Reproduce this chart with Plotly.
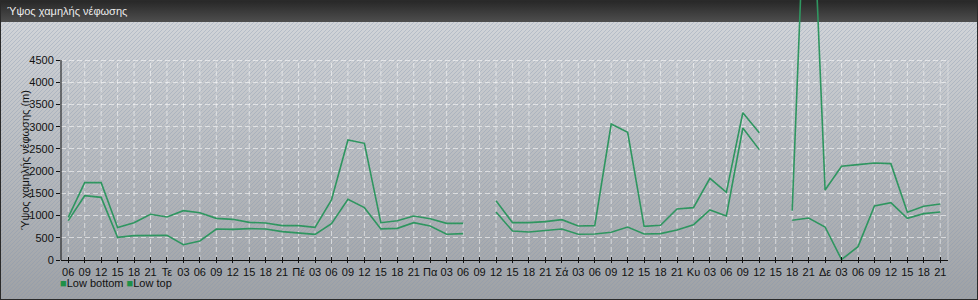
import base64
import plotly.graph_objects as go

# ---- data ----
tick_labels = ["06", "09", "12", "15", "18", "21",
               "Τε", "03", "06", "09", "12", "15", "18", "21",
               "Πέ", "03", "06", "09", "12", "15", "18", "21",
               "Πα", "03", "06", "09", "12", "15", "18", "21",
               "Σά", "03", "06", "09", "12", "15", "18", "21",
               "Κυ", "03", "06", "09", "12", "15", "18", "21",
               "Δε", "03", "06", "09", "12", "15", "18", "21"]
x_idx = list(range(len(tick_labels)))

low_bottom = [885, 1447, 1410, 510, 548, 555, 555, 345, 428, 698,
              690, 705, 698, 638, 600, 578, 818, 1365, 1178, 700,
              712, 840, 765, 578, 593, None, 1080, 653, 630, 668,
              698, 578, 585, 623, 743, 585, 593, 675, 795, 1125,
              990, 2970, 2483, None, 893, 945, 743, 10, 300, 1215,
              1290, 937, 1043, 1080]
low_top = [960, 1740, 1740, 728, 840, 1028, 968, 1110, 1065, 937,
           915, 847, 833, 773, 773, 735, 1350, 2700, 2625, 840,
           885, 990, 930, 825, 825, None, 1335, 840, 840, 863,
           908, 765, 773, 3060, 2873, 758, 780, 1148, 1178, 1837,
           1522, 3315, 2865, None, 1110, 10500, 1575, 2108, 2145, 2183,
           2168, 1073, 1208, 1260]
y_ticks = [0, 500, 1000, 1500, 2000, 2500, 3000, 3500, 4000, 4500]

# ---- geometry ----
W, H = 978, 300
ML, MR, MT, MB = 61, 30, 0, 40
PW, PH = W - ML - MR, H - MT - MB
PX_PER_UNIT = 200 / 4500.0
YMAX = PH / PX_PER_UNIT
X0, X1 = -0.44, 53.47
LINE = "#2f9660"
FONT = "Liberation Sans, Arial, sans-serif"

svg = f'''<svg xmlns="http://www.w3.org/2000/svg" width="{W}" height="{H}">
<defs>
<linearGradient id="bg" x1="0" y1="0" x2="0" y2="1">
<stop offset="0" stop-color="#d5d8dc"/><stop offset="1" stop-color="#9ea1a5"/></linearGradient>
<linearGradient id="tb" x1="0" y1="0" x2="0" y2="1">
<stop offset="0" stop-color="#262626"/><stop offset="1" stop-color="#4e4e4e"/></linearGradient>
<pattern id="h" width="4" height="4" patternUnits="userSpaceOnUse">
<path d="M-1,1 l2,-2 M0,4 l4,-4 M3,5 l2,-2" stroke="#8494ad" stroke-opacity="0.35" stroke-width="1"/></pattern>
</defs>
<rect width="{W}" height="{H}" fill="url(#bg)"/>
<rect width="{W}" height="{H}" fill="url(#h)"/>
<rect width="{W}" height="22" fill="url(#tb)"/>
<rect x="0.5" y="0.5" width="{W-1}" height="{H-1}" fill="none" stroke="#2a2a2a"/>
</svg>'''
src = "data:image/svg+xml;base64," + base64.b64encode(svg.encode()).decode()

fig = go.Figure()
fig.add_trace(go.Scatter(x=x_idx, y=low_bottom, mode="lines", name="Low bottom",
                         line=dict(color=LINE, width=1.6), connectgaps=False, showlegend=False))
fig.add_trace(go.Scatter(x=x_idx, y=low_top, mode="lines", name="Low top",
                         line=dict(color=LINE, width=1.6), connectgaps=False, showlegend=False))

shapes = []
for i in x_idx:
    shapes.append(dict(type="line", xref="x", yref="y", x0=i, x1=i, y0=0, y1=4500,
                       line=dict(color="rgba(255,255,255,0.55)", width=1, dash="5px,3px"),
                       layer="below"))
shapes.append(dict(type="line", xref="paper", yref="y", x0=1, x1=1, y0=0, y1=4500,
                   line=dict(color="rgba(255,255,255,0.35)", width=1), layer="below"))
shapes.append(dict(type="line", xref="paper", yref="y", x0=0, x1=0, y0=-50, y1=4500,
                   line=dict(color="#111", width=1), layer="above"))

fig.update_layout(
    width=W, height=H,
    margin=dict(l=ML, r=MR, t=MT, b=MB, pad=0),
    paper_bgcolor="#b8bbbf", plot_bgcolor="rgba(0,0,0,0)",
    showlegend=False,
    font=dict(family=FONT, size=11, color="#111"),
    images=[dict(source=src, xref="paper", yref="paper", x=-ML / PW, y=1,
                 sizex=W / PW, sizey=H / PH, xanchor="left", yanchor="top",
                 sizing="stretch", layer="below")],
    shapes=shapes,
    xaxis=dict(range=[X0, X1], tickmode="array", tickvals=x_idx, ticktext=tick_labels,
               showgrid=False, zeroline=False, showline=True, linecolor="#111", linewidth=1,
               ticks="outside", ticklen=2, tickcolor="#111",
               minor=dict(ticks="inside", ticklen=3, tickcolor="#111", tickmode="array",
                          tickvals=x_idx, showgrid=False),
               tickfont=dict(size=11, color="#111"), tickangle=0, fixedrange=True),
    yaxis=dict(range=[0, YMAX], tickmode="array", tickvals=y_ticks,
               ticktext=[str(v) for v in y_ticks],
               showgrid=True, gridcolor="rgba(255,255,255,0.55)", griddash="5px,3px", gridwidth=1,
               zeroline=False, showline=False, ticks="outside", ticklen=4, tickcolor="#111",
               tickfont=dict(size=11, color="#111"), fixedrange=True),
    annotations=[
        dict(text="Ύψος χαμηλής νέφωσης", xref="paper", yref="paper",
             x=-ML / PW + 5 / PW, y=1 - 11 / PH, xanchor="left", yanchor="middle",
             showarrow=False, font=dict(family=FONT, size=11, color="#ececec")),
        dict(text="Ύψος χαμηλής νέφωσης (m)", xref="paper", yref="y",
             x=-36 / PW, y=2250, textangle=-90, xanchor="center", yanchor="middle",
             showarrow=False, font=dict(family=FONT, size=11, color="#111")),
        dict(text="<span style='color:#1f9048'>■</span>Low bottom "
                  "<span style='color:#1f9048'>■</span>Low top",
             xref="paper", yref="paper", x=-3 / PW, y=-23 / PH,
             xanchor="left", yanchor="middle", showarrow=False,
             font=dict(family=FONT, size=11, color="#111")),
    ],
)

fig.write_html("out.html")
